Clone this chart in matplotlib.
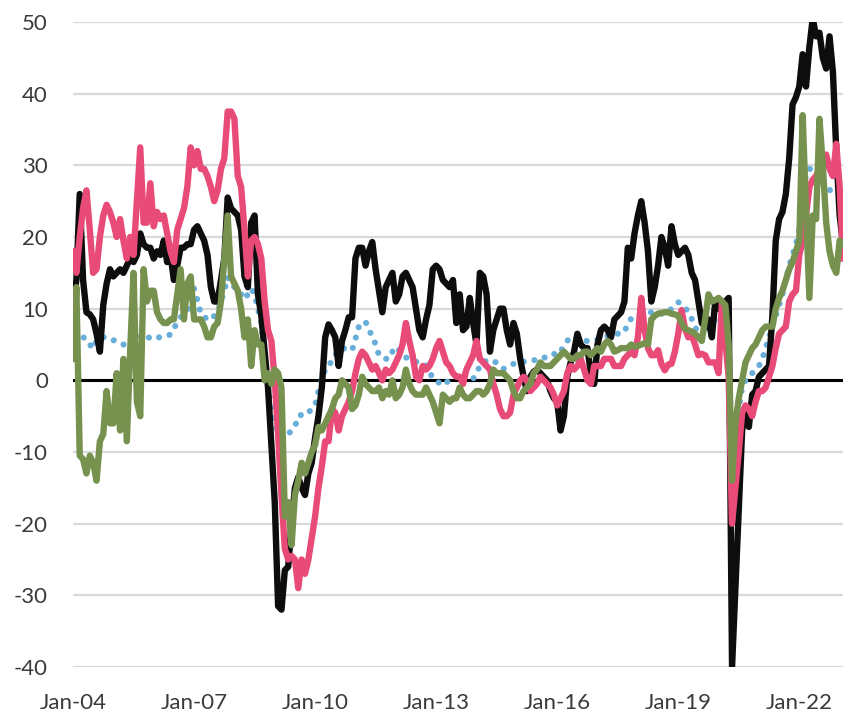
import numpy as np
import matplotlib
matplotlib.use("Agg")
import matplotlib.pyplot as plt

# monthly values, Jan 2004 onward
black_vals = [
    10.5, 14, 26, 14, 9.5, 9.2, 8.5, 6.5, 4, 10.5, 13.5, 15.5,
    14.5, 15, 15.5, 15, 16, 17, 16.5, 17.5, 20.5, 19, 18.5, 18.5,
    17, 18, 17.5, 19.5, 16.5, 17.5, 14, 16, 18.5, 18.5, 19, 19,
    21, 21.5, 20.5, 19.5, 17.5, 13, 11, 11, 14, 17, 25.5, 24,
    23.5, 23, 21, 14.5, 13, 22, 23, 12, 9, 4, -1, -9,
    -17, -31.5, -32, -26.5, -26, -20, -15, -13.5, -15, -16, -13, -11.5,
    -8, -5, -1, 6, 7.8, 7, 6, 2, 5.5, 7, 8.8, 8.8,
    17, 18.5, 18.5, 16, 18, 19.3, 15.5, 12.5, 9.5, 13, 14, 15,
    11, 12, 14.5, 15, 14, 13, 10, 7, 6, 8.5, 10.5, 15.5,
    16, 15.5, 14, 13.5, 13, 14, 8, 12, 7, 7.5, 11.5, 8,
    5, 15, 14.5, 12, 4, 7, 8.5, 10, 10, 7, 5, 8,
    6.5, 3, 0.5, -1.5, 0.5, 1.2, 1.5, 1, 0.5, 0, -1.5, -2.5,
    -3, -7, -5, 0.5, 2.5, 4, 6.5, 5, 4.5, 4.5, 1, -0.5,
    5, 7, 7.5, 7, 6, 8.5, 9, 9.5, 11, 18.5, 17, 20.5,
    23, 25, 22, 18, 11, 13, 16, 20, 18.5, 16, 21.5, 19,
    17.5, 18, 18.5, 17.5, 15, 14, 11, 8, 7.5, 8.5, 6, 11,
    10, 10, 11, 11.5, -40, -29, -18, -7, -4.5, -6.5, -2, -1.5,
    0.5, 1, 1.5, 2, 9, 19.5, 22.5, 23.5, 26, 31, 38.5, 39.5,
    41, 45.5, 41, 46.5, 50.5, 48, 48.5, 45, 43.5, 48, 43, 32, 23, 19,
]

pink_vals = [
    18, 15, 20, 24, 26.5, 21, 15, 15.5, 20, 23, 24.5, 23.5,
    22, 20, 22.5, 19.5, 17, 20, 17.5, 25, 32.5, 22, 22, 27.5,
    21.5, 23.5, 22.5, 23, 20.5, 18, 16.5, 21, 22.5, 24, 27, 32.5,
    30, 32, 29.5, 29.5, 28.5, 27, 25, 26.5, 29.5, 31, 37.5, 37.5,
    36.5, 28.5, 27, 21, 14.5, 19.5, 20, 19, 17, 11, 7, 5.5,
    0, -7.5, -16, -23.5, -25, -24.5, -25, -29, -25, -27, -25, -22,
    -19, -15, -12, -8.5, -8.5, -4, -4.5, -7, -5, -4, -3, -1.5,
    1, 3, 4, 3.5, 2.5, 1.5, 2, 1, 0, 1.5, 1, 1.5,
    2.5, 3.5, 5, 8, 5.5, 3.5, 0.5, 0, 2, 1.5, 2, 3,
    4.5, 5.5, 4, 2.5, 2, 1, 0.5, 0.5, -0.5, 1.5, 2.5, 3.5,
    5.5, 3, 2.5, 2, 1.5, -0.5, -2, -4, -5, -5, -4.5, -2,
    -1, 0, 0.5, 0, -1.5, -1, -0.5, 0.5, 0, -0.5, -1, -2,
    -3.5, -2.5, -1.5, 1, 2, 1.5, 2, 3, 1.5, 0, -0.5, 2,
    2, 2, 3, 3, 3, 2, 2, 2, 3, 3.5, 4, 3.5,
    6, 11.5, 7, 4.5, 3.5, 3.5, 4.2, 2.3, 1.4, 2.2, 2.3, 4,
    6.5, 9.8, 7.2, 6, 6.3, 5, 3.5, 3.7, 3.5, 2.5, 2.5, 2.5,
    1, 11, 5.5, 0.5, -20, -15, -10, -4.5, -3.5, -4, -5, -3,
    -1.5, -1.5, -1, 0.5, 2, 4.5, 6.5, 7, 7.5, 11, 12, 12.5,
    17.5, 19.5, 23, 27, 28, 28.5, 29.5, 30.5, 31.5, 29.5, 28.5, 33, 27, 17,
]

green_vals = [
    3, 13, -10.5, -11, -13, -10.5, -11.5, -14, -8.5, -7.5, -1.5, -6,
    -6, 1, -7, 3, -8.5, 4, 15, -3, -5, 15.5, 11, 12.5,
    12.5, 9.5, 8.5, 8, 8, 8.5, 8.5, 12, 15.5, 8.5, 13.5, 14.5,
    8.5, 8.5, 8.5, 7.5, 6, 6, 7.5, 8, 11, 17, 23, 14.5,
    13.5, 12.5, 10, 6, 8.5, 2, 7, 5, 5, 0, 1, -0.5,
    1.5, 1, -1, -19, -17, -23, -16, -14, -11.5, -13, -11.5, -10,
    -9, -6.5, -7, -6, -5, -4, -2.5, -2, 0, -0.5, -1, -4,
    -3.5, -2, 0.5, -0.5, -1, -1.5, -1.5, -1, -2.5, -1.5, -2, 0,
    -2.5, -2, -1, 1.5, -0.5, -1.5, -2, -2, -2, -1, -2, -3,
    -4.5, -6, -2, -2.5, -3, -2.5, -2.5, -1, -2, -2.5, -2.5, -2,
    -1.5, -1.5, -2, -1.5, -0.5, 1.5, 1, 1, 1, 0.5, 0, -1.5,
    -2.5, -2.5, -1.5, -1, -0.5, 1, 1.5, 2.5, 2, 2, 2, 2.5,
    3, 3.5, 4, 3.5, 3, 3, 3.5, 3.5, 4, 4, 3.5, 4,
    4.5, 4, 5, 5.5, 5, 4, 4.2, 4.5, 4.5, 4.5, 5, 4.7,
    4.8, 5, 5.2, 5, 8.5, 9, 9.3, 9.4, 9.5, 9.5, 9.3, 9.2,
    9, 8, 7.2, 7, 6.8, 6.5, 6, 5.5, 8.5, 12, 11, 11.2,
    11.5, 11, 10.5, 5, -14, -6, -2.5, 0, 2.5, 3.5, 4.5, 5,
    6, 7, 7.5, 7.5, 7.5, 10, 11.5, 12.5, 14, 15.5, 16.5, 18,
    19.5, 37, 24, 11.5, 23, 22.5, 36.5, 30, 22, 18, 16, 15, 19.5, 19,
]

blue_vals = [
    6, 6, 6, 6, 5.8, 5, 4.4, 5.5, 6, 6, 6, 5.8,
    5.6, 5.5, 5.2, 5, 4.7, 4.8, 5, 5.5, 6, 6.5, 6.2, 5.8,
    5.9, 6, 6, 6.1, 6.2, 6.4, 7.3, 8, 8.8, 9.3, 9.8, 10.7,
    12.8, 11.2, 9.3, 8.8, 8.6, 8.4, 9, 9.5, 11, 12.5, 14.4, 13.5,
    13, 12.8, 12, 11.3, 12, 12.8, 12, 10, 8, 3, -1, -4,
    -6, -7.5, -8, -8, -7.5, -7, -6.5, -5, -4.8, -4.9, -4.5, -4,
    -3.5, -1.5, 0, 1.5, 2.3, 2.5, 3.5, 4.2, 4.5, 4.4, 4.3, 4.2,
    5.8, 7.5, 8, 8.2, 7, 6.2, 5, 3.5, 3.2, 3, 3, 4,
    4.7, 4.2, 3.5, 3.2, 3, 2.8, 2.6, 2.4, 2.3, 2.1, 1.2, 0.3,
    0, -0.4, -0.7, -0.3, 0, 0.2, 0.6, 1, 1.2, 0.8, 0.4, 0.2,
    1, 2, 2.6, 2.7, 2.8, 2.8, 2.4, 2, 1.6, 1.8, 2.1, 2.3,
    2.4, 2.5, 2.6, 2.7, 2.8, 2.8, 2.9, 2.9, 3.1, 3.4, 3.7, 3.7,
    3.5, 4, 4.8, 5.5, 6.1, 6, 5.8, 5.6, 5.5, 5.5, 5.6, 5.6,
    5.7, 5.8, 6, 6.2, 6.4, 6.5, 6.5, 6.6, 6.7, 8, 8.6, 8.8,
    9, 9.2, 9.3, 9.4, 9.5, 9.5, 9.4, 9.3, 9.3, 9.5, 10, 10.5,
    10.9, 10.6, 10.2, 9.5, 8.6, 7.5, 6.5, 6, 6.5, 7.5, 8, 8.5,
    9, 9, 8, 5, -12, -8, -4, -1, 0, 0.5, 1, 1.5,
    2, 3, 4.5, 6, 7.5, 9, 10.5, 12, 14, 16, 17.5, 19,
    21, 24, 29, 29.5, 29.5, 29, 28, 27.5, 26.5, 26.5, 27, 27, 27, 27,
]

tick_labels = ["Jan-04", "Jan-07", "Jan-10", "Jan-13", "Jan-16", "Jan-19", "Jan-22"]
tick_months = [0, 36, 72, 108, 144, 180, 216]
y_ticks = [50, 40, 30, 20, 10, 0, -10, -20, -30, -40]

W, H = 845, 717
fig = plt.figure(figsize=(W / 100, H / 100), dpi=100)
ax = fig.add_axes([73 / W, 50 / H, 770 / W, 645 / H])

x = np.arange(len(black_vals))

ax.axhline(0, color="black", lw=2.2, zorder=2)
ax.plot(x, blue_vals, color="#67aedb", lw=4.4, linestyle=(0, (0.01, 1.75)),
        dash_capstyle="round", zorder=3)
ax.plot(x, black_vals, color="#0d0d0d", lw=4.6, solid_joinstyle="round", zorder=4)
ax.plot(x, pink_vals, color="#e94b78", lw=4.6, solid_joinstyle="round", zorder=5)
ax.plot(x, green_vals, color="#77924f", lw=4.6, solid_joinstyle="round", zorder=6)

ax.set_xlim(0, len(black_vals) - 1)
ax.set_ylim(-40, 50)
ax.set_yticks(y_ticks)
ax.set_yticklabels([str(v) for v in y_ticks])
ax.set_xticks(tick_months)
ax.set_xticklabels(tick_labels)

ax.grid(axis="y", color="#d9d9d9", lw=1.6, zorder=0)
ax.set_axisbelow(True)
for s in ax.spines.values():
    s.set_visible(False)

ax.tick_params(axis="both", length=0, labelsize=16, labelcolor="#3a3a3a")
ax.tick_params(axis="y", pad=18)
ax.tick_params(axis="x", pad=19)
for lab in ax.get_xticklabels() + ax.get_yticklabels():
    lab.set_fontfamily("Lato")

fig.savefig("out.png", dpi=100)
